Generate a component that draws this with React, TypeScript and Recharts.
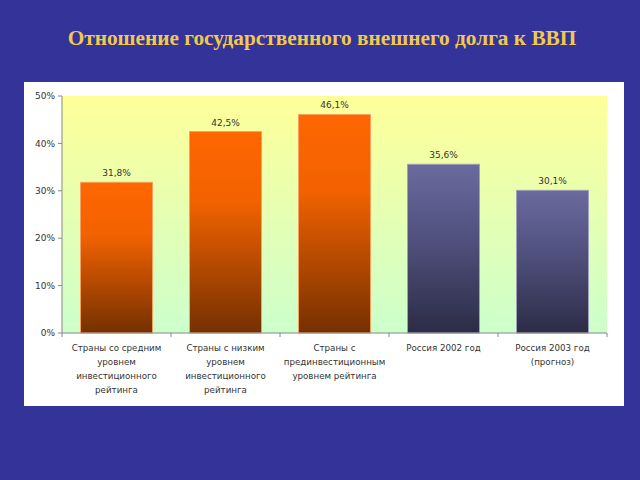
import React from 'react';
import { BarChart, Bar, XAxis, YAxis, CartesianGrid, LabelList, Cell } from 'recharts';

const categories = [
  'Страны со средним\nуровнем\nинвестиционного\nрейтинга',
  'Страны с низким\nуровнем\nинвестиционного\nрейтинга',
  'Страны с\nпрединвестиционным\nуровнем рейтинга',
  'Россия 2002 год',
  'Россия 2003 год\n(прогноз)',
];
const values = [31.8, 42.5, 46.1, 35.6, 30.1];
const barKinds = ['orange', 'orange', 'orange', 'navy', 'navy'];
const yTicks = [0, 10, 20, 30, 40, 50];

const chartData = categories.map((name, i) => ({ name, value: values[i] }));

const FONT = '"DejaVu Sans", Verdana, sans-serif';

function CategoryTick(props: any) {
  const { x, y, payload, index } = props;
  const half = payload?.offset ?? 54.5;
  const lines = String(payload.value).split('\n');
  return (
    <g>
      <line x1={x - half} y1={y} x2={x - half} y2={y + 4} stroke="#888" />
      {index === categories.length - 1 && (
        <line x1={x + half} y1={y} x2={x + half} y2={y + 4} stroke="#888" />
      )}
      {lines.map((line, i) => (
        <text
          key={i}
          x={x}
          y={y + 18 + i * 14}
          textAnchor="middle"
          fontSize={8.7}
          fontFamily={FONT}
          fill="#333"
        >
          {line}
        </text>
      ))}
    </g>
  );
}

export default function App() {
  return (
    <div
      style={{
        position: 'absolute',
        left: 0,
        top: 0,
        width: 640,
        height: 480,
        background: '#333399',
        overflow: 'hidden',
      }}
    >
      <div
        style={{
          position: 'absolute',
          left: 0,
          top: 26,
          width: 644,
          textAlign: 'center',
          fontFamily: '"Liberation Serif", "Times New Roman", serif',
          fontWeight: 'bold',
          fontSize: 21.3,
          color: '#F2C94C',
        }}
      >
        Отношение государственного внешнего долга к ВВП
      </div>
      <div
        style={{
          position: 'absolute',
          left: 24,
          top: 82,
          width: 600,
          height: 324,
          background: '#ffffff',
        }}
      >
        <BarChart
          width={600}
          height={324}
          data={chartData}
          margin={{ top: 14, right: 17, bottom: 0, left: 0 }}
          barCategoryGap="17%"
        >
          <defs>
            <linearGradient id="plotBg" x1="0" y1="0" x2="0" y2="1">
              <stop offset="0%" stopColor="#FFFF99" />
              <stop offset="100%" stopColor="#CCFFCC" />
            </linearGradient>
            <linearGradient id="orangeFill" x1="0" y1="0" x2="0" y2="1">
              <stop offset="0%" stopColor="#FF6600" />
              <stop offset="35%" stopColor="#F26200" />
              <stop offset="100%" stopColor="#743000" />
            </linearGradient>
            <linearGradient id="navyFill" x1="0" y1="0" x2="0" y2="1">
              <stop offset="0%" stopColor="#6A6A9E" />
              <stop offset="45%" stopColor="#50507E" />
              <stop offset="100%" stopColor="#2C2C46" />
            </linearGradient>
          </defs>
          <CartesianGrid horizontal={false} vertical={false} fill="url(#plotBg)" stroke="none" />
          <XAxis
            dataKey="name"
            interval={0}
            height={73}
            tickSize={0}
            tickMargin={0}
            tickLine={false}
            axisLine={{ stroke: '#888' }}
            tick={<CategoryTick />}
          />
          <YAxis
            width={38}
            domain={[0, 50]}
            ticks={yTicks}
            tickSize={4}
            tickMargin={3}
            axisLine={{ stroke: '#888' }}
            tickLine={{ stroke: '#888' }}
            tickFormatter={(v) => `${v}%`}
            tick={{ fontSize: 9, fontFamily: FONT, fill: '#333' }}
          />
          <Bar dataKey="value" isAnimationActive={false}>
            {chartData.map((d, i) => (
              <Cell
                key={d.name}
                fill={barKinds[i] === 'orange' ? 'url(#orangeFill)' : 'url(#navyFill)'}
                stroke={barKinds[i] === 'orange' ? '#F8A060' : '#A0A0B8'}
                strokeWidth={1}
              />
            ))}
            <LabelList
              dataKey="value"
              position="top"
              offset={6}
              formatter={(v: any) => `${Number(v).toFixed(1).replace('.', ',')}%`}
              style={{ fontSize: 9, fontFamily: FONT, fill: '#333' }}
            />
          </Bar>
        </BarChart>
      </div>
    </div>
  );
}
